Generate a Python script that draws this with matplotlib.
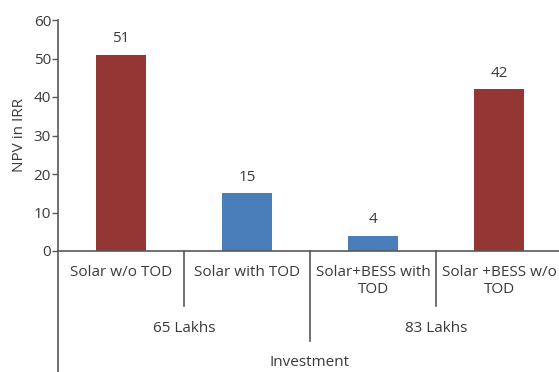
import matplotlib.pyplot as plt

categories = ["Solar w/o TOD", "Solar with TOD", "Solar+BESS with\nTOD", "Solar +BESS w/o\nTOD"]
values = [51, 15, 4, 42]
bar_colors = ["#943634", "#4a7ebb", "#4a7ebb", "#943634"]
groups = ["65 Lakhs", "83 Lakhs"]
yticks = [0, 10, 20, 30, 40, 50, 60]

TEXT = "#3a3a3a"
AXIS = "#595959"
FS = 11
plt.rcParams["font.family"] = ["Open Sans", "DejaVu Sans"]

fig = plt.figure(figsize=(5.59, 3.72), dpi=100)
ax = fig.add_axes([58 / 559, 121 / 372, 501 / 559, 231 / 372])
px = 1 / 231  # axes fraction per pixel (vertical)

x = list(range(len(categories)))
ax.bar(x, values, width=0.4, color=bar_colors)
for xi, v in zip(x, values):
    ax.annotate(str(v), (xi, v), xytext=(0, 6), textcoords="offset points",
                ha="center", va="bottom", fontsize=FS, color=TEXT)

ax.set_xlim(-0.5, 3.476)
ax.set_ylim(0, 60)
ax.set_yticks(yticks)
ax.tick_params(axis="y", length=4, width=1, color=AXIS, labelsize=FS, labelcolor=TEXT, pad=1)
ax.set_xticks([])

for s in ["top", "right"]:
    ax.spines[s].set_visible(False)
for s in ["left", "bottom"]:
    ax.spines[s].set_color(AXIS)
    ax.spines[s].set_linewidth(1.2)

ax.set_ylabel("NPV in IRR", fontsize=FS, color=TEXT, labelpad=5)

trans = ax.get_xaxis_transform()
# y spine extended to the bottom of the figure
ax.plot([-0.5, -0.5], [0, -121 * px], transform=trans, color=AXIS, lw=1.2, clip_on=False)
# category separators
for b, depth in [(0.5, 55), (1.5, 90), (2.5, 55)]:
    ax.plot([b, b], [0, -depth * px], transform=trans, color=AXIS, lw=1.2, clip_on=False)

for xi, lab in zip(x, categories):
    ax.text(xi, -14 * px, lab, transform=trans, ha="center", va="top",
            fontsize=FS, color=TEXT, linespacing=1.2)

for gx, g in zip([0.5, 2.5], groups):
    ax.text(gx, -78 * px, g, transform=trans, ha="center", va="center", fontsize=FS, color=TEXT)

ax.text(1.5, -112 * px, "Investment", transform=trans, ha="center", va="center",
        fontsize=FS, color=TEXT)

fig.savefig("out.png", dpi=100)
